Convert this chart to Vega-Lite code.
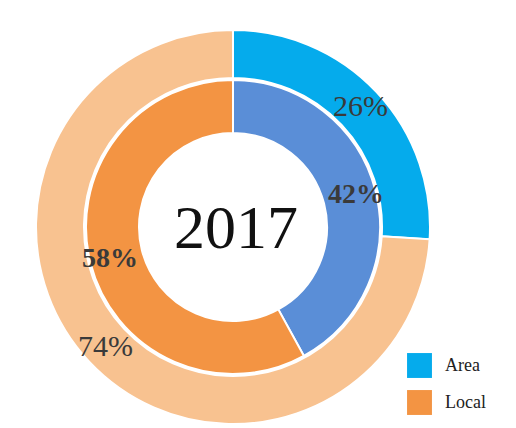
{
  "$schema": "https://vega.github.io/schema/vega-lite/v6.json",
  "width": 450,
  "height": 440,
  "autosize": {"type": "none"},
  "padding": {"left": 8, "top": 7, "right": 58, "bottom": 0},
  "background": "white",
  "config": {"view": {"stroke": null}},
  "data": {
    "values": [
      {"ring": "outer", "key": "Area", "value": 26, "ord": 1, "label": "26%"},
      {"ring": "outer", "key": "Local2", "value": 74, "ord": 2, "label": "74%"},
      {"ring": "inner", "key": "Area2", "value": 42, "ord": 1, "label": "42%"},
      {"ring": "inner", "key": "Local", "value": 58, "ord": 2, "label": "58%"}
    ]
  },
  "layer": [
    {
      "transform": [{"filter": "datum.ring === 'outer'"}],
      "mark": {"type": "arc", "radius": 197, "radius2": 149, "stroke": "white", "strokeWidth": 2},
      "encoding": {
        "theta": {"field": "value", "type": "quantitative", "stack": true},
        "order": {"field": "ord", "type": "quantitative"},
        "color": {
          "field": "key", "type": "nominal",
          "scale": {"domain": ["Area", "Local", "Area2", "Local2"], "range": ["#05ABEC", "#F39443", "#5A8ED7", "#F8C290"]},
          "legend": {
            "values": ["Area", "Local"], "title": null, "orient": "none",
            "legendX": 399, "legendY": 346,
            "symbolType": "square", "symbolSize": 620, "symbolStrokeWidth": 0,
            "labelFont": "Liberation Serif", "labelFontSize": 18, "labelColor": "#222222",
            "labelOffset": 13, "rowPadding": 12
          }
        }
      }
    },
    {
      "transform": [{"filter": "datum.ring === 'inner'"}],
      "mark": {"type": "arc", "radius": 147, "radius2": 94, "stroke": "white", "strokeWidth": 2},
      "encoding": {
        "theta": {"field": "value", "type": "quantitative", "stack": true},
        "order": {"field": "ord", "type": "quantitative"},
        "color": {"field": "key", "type": "nominal"}
      }
    },
    {
      "transform": [{"filter": "datum.ring === 'outer'"}],
      "mark": {"type": "text", "radius": 175, "font": "Liberation Serif", "fontSize": 30, "fill": "#3a3a3a"},
      "encoding": {
        "theta": {"field": "value", "type": "quantitative", "stack": true},
        "order": {"field": "ord", "type": "quantitative"},
        "text": {"field": "label"}
      }
    },
    {
      "transform": [{"filter": "datum.ring === 'inner'"}],
      "mark": {"type": "text", "radius": 127, "font": "Liberation Serif", "fontSize": 28, "fontWeight": "bold", "fill": "#3a3a3a"},
      "encoding": {
        "theta": {"field": "value", "type": "quantitative", "stack": true},
        "order": {"field": "ord", "type": "quantitative"},
        "text": {"field": "label"}
      }
    },
    {
      "data": {"values": [{"year": "2017"}]},
      "mark": {"type": "text", "font": "Liberation Serif", "fontSize": 62, "fill": "#111111", "dx": 3, "dy": 2},
      "encoding": {"text": {"field": "year"}}
    }
  ]
}
